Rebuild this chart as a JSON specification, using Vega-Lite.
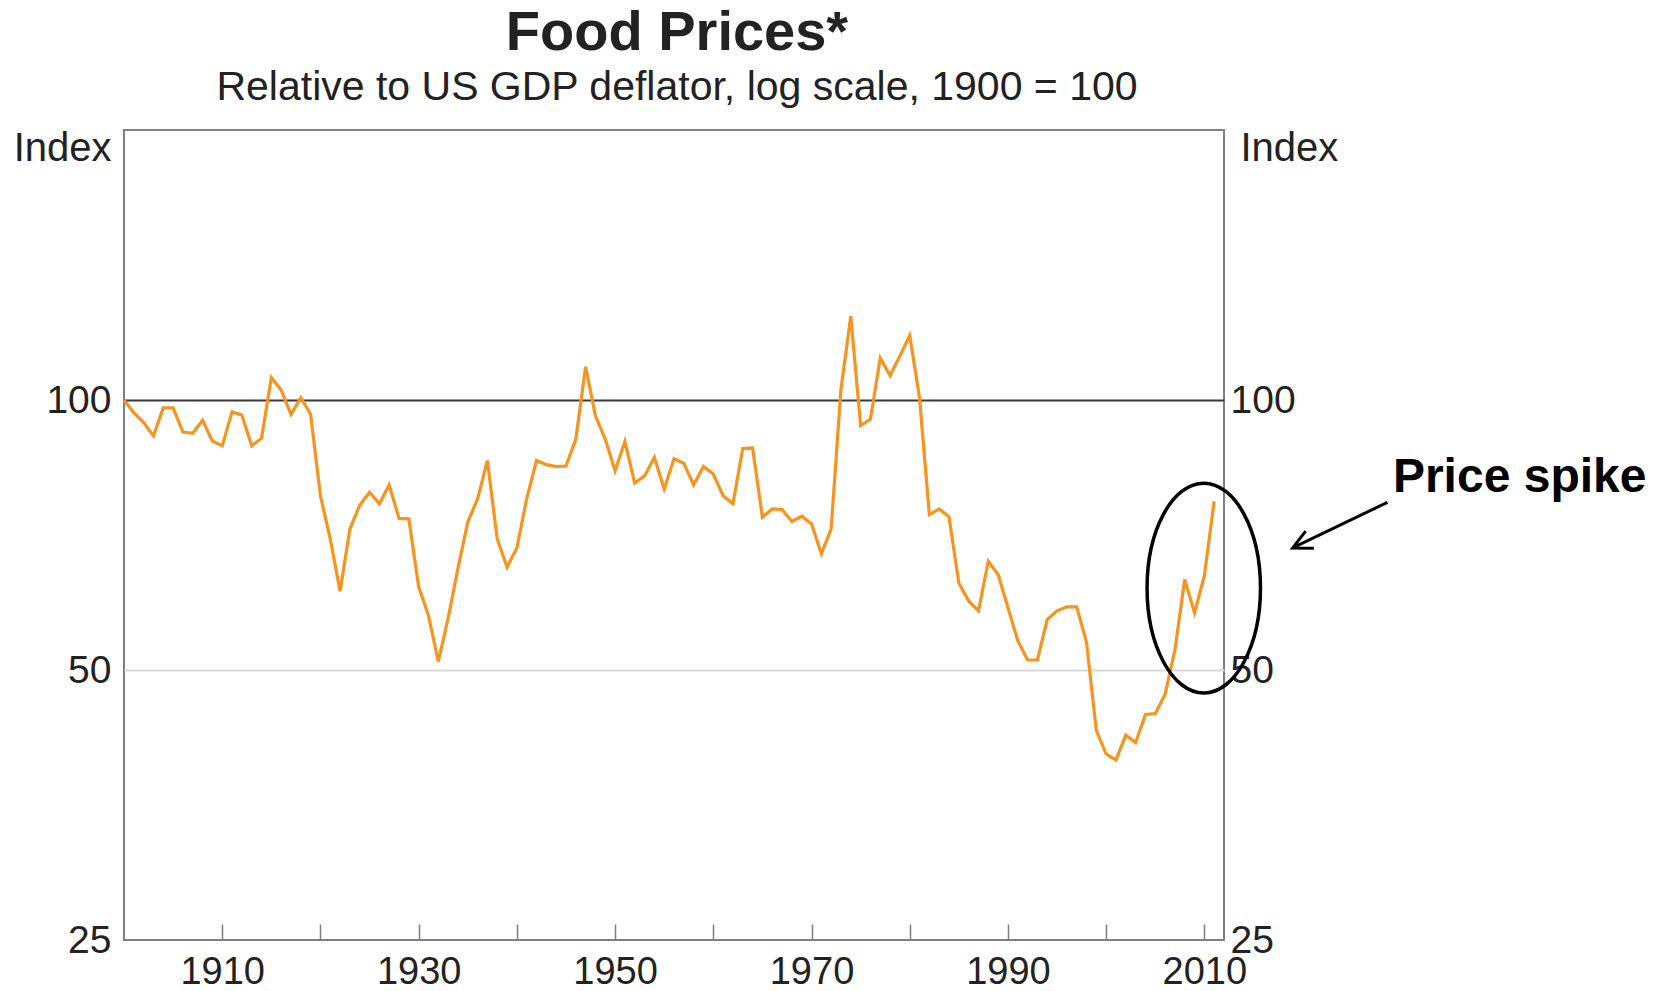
{
  "$schema": "https://vega.github.io/schema/vega-lite/v6.json",
  "width": 1100,
  "height": 810,
  "autosize": {"type": "none"},
  "padding": {"left": 124, "top": 130, "right": 438, "bottom": 51},
  "background": "white",
  "title": {
    "text": "Food Prices*",
    "subtitle": "Relative to US GDP deflator, log scale, 1900 = 100",
    "anchor": "middle",
    "frame": "group",
    "offset": 19,
    "subtitlePadding": 6,
    "dx": 3,
    "font": "Liberation Sans",
    "fontSize": 56,
    "fontWeight": "bold",
    "color": "#222222",
    "subtitleFont": "Liberation Sans",
    "subtitleFontSize": 41,
    "subtitleColor": "#222222"
  },
  "config": {
    "view": {"stroke": "#7f7f7f", "strokeWidth": 2},
    "font": "Liberation Sans"
  },
  "resolve": {"axis": {"x": "independent", "y": "independent"}},
  "layer": [
    {
      "data": {
        "values": [
          {"year": 1900, "value": 100}, {"year": 1901, "value": 96.8}, {"year": 1902, "value": 94.4},
          {"year": 1903, "value": 91.2}, {"year": 1904, "value": 98}, {"year": 1905, "value": 98},
          {"year": 1906, "value": 92.1}, {"year": 1907, "value": 91.8}, {"year": 1908, "value": 94.9},
          {"year": 1909, "value": 90}, {"year": 1910, "value": 88.9}, {"year": 1911, "value": 97},
          {"year": 1912, "value": 96.2}, {"year": 1913, "value": 88.9}, {"year": 1914, "value": 90.6},
          {"year": 1915, "value": 105.9}, {"year": 1916, "value": 102.6}, {"year": 1917, "value": 96.4},
          {"year": 1918, "value": 100.6}, {"year": 1919, "value": 96.4}, {"year": 1920, "value": 78.2},
          {"year": 1921, "value": 70.0}, {"year": 1922, "value": 61.2}, {"year": 1923, "value": 71.8},
          {"year": 1924, "value": 76.3}, {"year": 1925, "value": 78.9}, {"year": 1926, "value": 76.6},
          {"year": 1927, "value": 80.4}, {"year": 1928, "value": 73.8}, {"year": 1929, "value": 73.7},
          {"year": 1930, "value": 61.9}, {"year": 1931, "value": 57.5}, {"year": 1932, "value": 51.1},
          {"year": 1933, "value": 57.1}, {"year": 1934, "value": 64.9}, {"year": 1935, "value": 73.1},
          {"year": 1936, "value": 77.6}, {"year": 1937, "value": 85.6}, {"year": 1938, "value": 70.0},
          {"year": 1939, "value": 65.1}, {"year": 1940, "value": 68.4}, {"year": 1941, "value": 77.6},
          {"year": 1942, "value": 85.6}, {"year": 1943, "value": 84.7}, {"year": 1944, "value": 84.3},
          {"year": 1945, "value": 84.4}, {"year": 1946, "value": 90.4}, {"year": 1947, "value": 108.9},
          {"year": 1948, "value": 96}, {"year": 1949, "value": 90.4}, {"year": 1950, "value": 83.4},
          {"year": 1951, "value": 89.9}, {"year": 1952, "value": 80.8}, {"year": 1953, "value": 82.3},
          {"year": 1954, "value": 86.3}, {"year": 1955, "value": 79.6}, {"year": 1956, "value": 86},
          {"year": 1957, "value": 85}, {"year": 1958, "value": 80.4}, {"year": 1959, "value": 84.3},
          {"year": 1960, "value": 82.7}, {"year": 1961, "value": 78.2}, {"year": 1962, "value": 76.6},
          {"year": 1963, "value": 88.3}, {"year": 1964, "value": 88.4}, {"year": 1965, "value": 74},
          {"year": 1966, "value": 75.6}, {"year": 1967, "value": 75.5}, {"year": 1968, "value": 73.2},
          {"year": 1969, "value": 74.2}, {"year": 1970, "value": 72.8}, {"year": 1971, "value": 67.4},
          {"year": 1972, "value": 71.8}, {"year": 1973, "value": 102.8}, {"year": 1974, "value": 124},
          {"year": 1975, "value": 93.6}, {"year": 1976, "value": 95.2}, {"year": 1977, "value": 111.4},
          {"year": 1978, "value": 106.5}, {"year": 1979, "value": 112}, {"year": 1980, "value": 118},
          {"year": 1981, "value": 100.5}, {"year": 1982, "value": 74.5}, {"year": 1983, "value": 75.6},
          {"year": 1984, "value": 74.1}, {"year": 1985, "value": 62.5}, {"year": 1986, "value": 59.7},
          {"year": 1987, "value": 58.2}, {"year": 1988, "value": 66.1}, {"year": 1989, "value": 63.9},
          {"year": 1990, "value": 58.7}, {"year": 1991, "value": 53.9}, {"year": 1992, "value": 51.3},
          {"year": 1993, "value": 51.3}, {"year": 1994, "value": 56.9}, {"year": 1995, "value": 58.2},
          {"year": 1996, "value": 58.8}, {"year": 1997, "value": 58.8}, {"year": 1998, "value": 53.7},
          {"year": 1999, "value": 42.8}, {"year": 2000, "value": 40.3}, {"year": 2001, "value": 39.7},
          {"year": 2002, "value": 42.3}, {"year": 2003, "value": 41.5}, {"year": 2004, "value": 44.6},
          {"year": 2005, "value": 44.7}, {"year": 2006, "value": 47}, {"year": 2007, "value": 52.6},
          {"year": 2008, "value": 63.1}, {"year": 2009, "value": 57.9}, {"year": 2010, "value": 63.7},
          {"year": 2011, "value": 77.1}
        ]
      },
      "mark": {"type": "line", "color": "#f7941d", "strokeWidth": 3.2},
      "encoding": {
        "x": {
          "field": "year",
          "type": "quantitative",
          "scale": {"domain": [1900, 2012], "nice": false, "zero": false},
          "axis": {
            "orient": "bottom",
            "title": null,
            "values": [1910, 1920, 1930, 1940, 1950, 1960, 1970, 1980, 1990, 2000, 2010],
            "format": "d",
            "labelExpr": "datum.value % 20 == 10 ? datum.label : ''",
            "domain": false,
            "ticks": true,
            "tickSize": -16,
            "tickColor": "#7f7f7f",
            "tickWidth": 1.5,
            "labelPadding": 29,
            "labelFontSize": 38,
            "labelFont": "Liberation Sans",
            "labelColor": "#222222",
            "labelFlush": false,
            "labelOverlap": false,
            "grid": false
          }
        },
        "y": {
          "field": "value",
          "type": "quantitative",
          "scale": {"type": "log", "domain": [25, 200], "nice": false},
          "axis": {
            "orient": "left",
            "values": [25, 50, 100],
            "format": "d",
            "title": "Index",
            "titleAngle": 0,
            "titleAlign": "right",
            "titleBaseline": "middle",
            "titleX": -13,
            "titleY": 18,
            "titleFont": "Liberation Sans",
            "titleFontSize": 40,
            "titleFontWeight": "normal",
            "titleColor": "#222222",
            "labelFont": "Liberation Sans",
            "labelFontSize": 39,
            "labelColor": "#222222",
            "labelPadding": 13,
            "labelBaseline": "middle",
            "ticks": false,
            "domain": false,
            "grid": true,
            "gridColor": {"condition": {"test": "datum.value === 100", "value": "#3a3a3a"}, "value": "#d9d9d9"},
            "gridOpacity": {"condition": {"test": "datum.value === 25", "value": 0}, "value": 1},
            "gridWidth": 2,
            "zindex": 0
          }
        }
      }
    },
    {
      "data": {"values": [{"year": 2009.94, "value": 61.7}]},
      "mark": {
        "type": "point",
        "shape": "M -1 0 A 1 1.85 0 1 0 1 0 A 1 1.85 0 1 0 -1 0 Z",
        "size": 12860,
        "filled": false,
        "stroke": "black",
        "strokeWidth": 3.5,
        "opacity": 1
      },
      "encoding": {
        "x": {"field": "year", "type": "quantitative", "axis": null},
        "y": {
          "field": "value",
          "type": "quantitative",
          "axis": {
            "orient": "right",
            "values": [25, 50, 100],
            "format": "d",
            "title": "Index",
            "titleAngle": 0,
            "titleAlign": "left",
            "titleBaseline": "middle",
            "titleX": 16,
            "titleY": 18,
            "titleFont": "Liberation Sans",
            "titleFontSize": 40,
            "titleFontWeight": "normal",
            "titleColor": "#222222",
            "labelFont": "Liberation Sans",
            "labelFontSize": 39,
            "labelColor": "#222222",
            "labelPadding": 6,
            "labelBaseline": "middle",
            "ticks": false,
            "domain": false,
            "grid": false
          }
        }
      }
    },
    {
      "data": {"values": [{"fromYear": 2028.64, "fromValue": 76.9, "toYear": 2018.99, "toValue": 68.4}]},
      "mark": {"type": "rule", "color": "black", "strokeWidth": 3},
      "encoding": {
        "x": {"field": "fromYear", "type": "quantitative", "axis": null},
        "y": {"field": "fromValue", "type": "quantitative", "axis": null},
        "x2": {"field": "toYear"},
        "y2": {"field": "toValue"}
      }
    },
    {
      "data": {"values": [{"year": 2018.99, "value": 68.4}]},
      "mark": {
        "type": "point",
        "shape": "M 2 -1 L 0 0 L 2 1",
        "size": 361,
        "angle": 334.4,
        "filled": false,
        "stroke": "black",
        "strokeWidth": 3,
        "opacity": 1
      },
      "encoding": {
        "x": {"field": "year", "type": "quantitative", "axis": null},
        "y": {"field": "value", "type": "quantitative", "axis": null}
      }
    },
    {
      "data": {"values": [{"year": 2029.2, "value": 79, "label": "Price spike"}]},
      "mark": {
        "type": "text",
        "align": "left",
        "baseline": "alphabetic",
        "font": "Liberation Sans",
        "fontSize": 48,
        "fontWeight": "bold",
        "color": "black"
      },
      "encoding": {
        "x": {"field": "year", "type": "quantitative", "axis": null},
        "y": {"field": "value", "type": "quantitative", "axis": null},
        "text": {"field": "label"}
      }
    }
  ]
}
